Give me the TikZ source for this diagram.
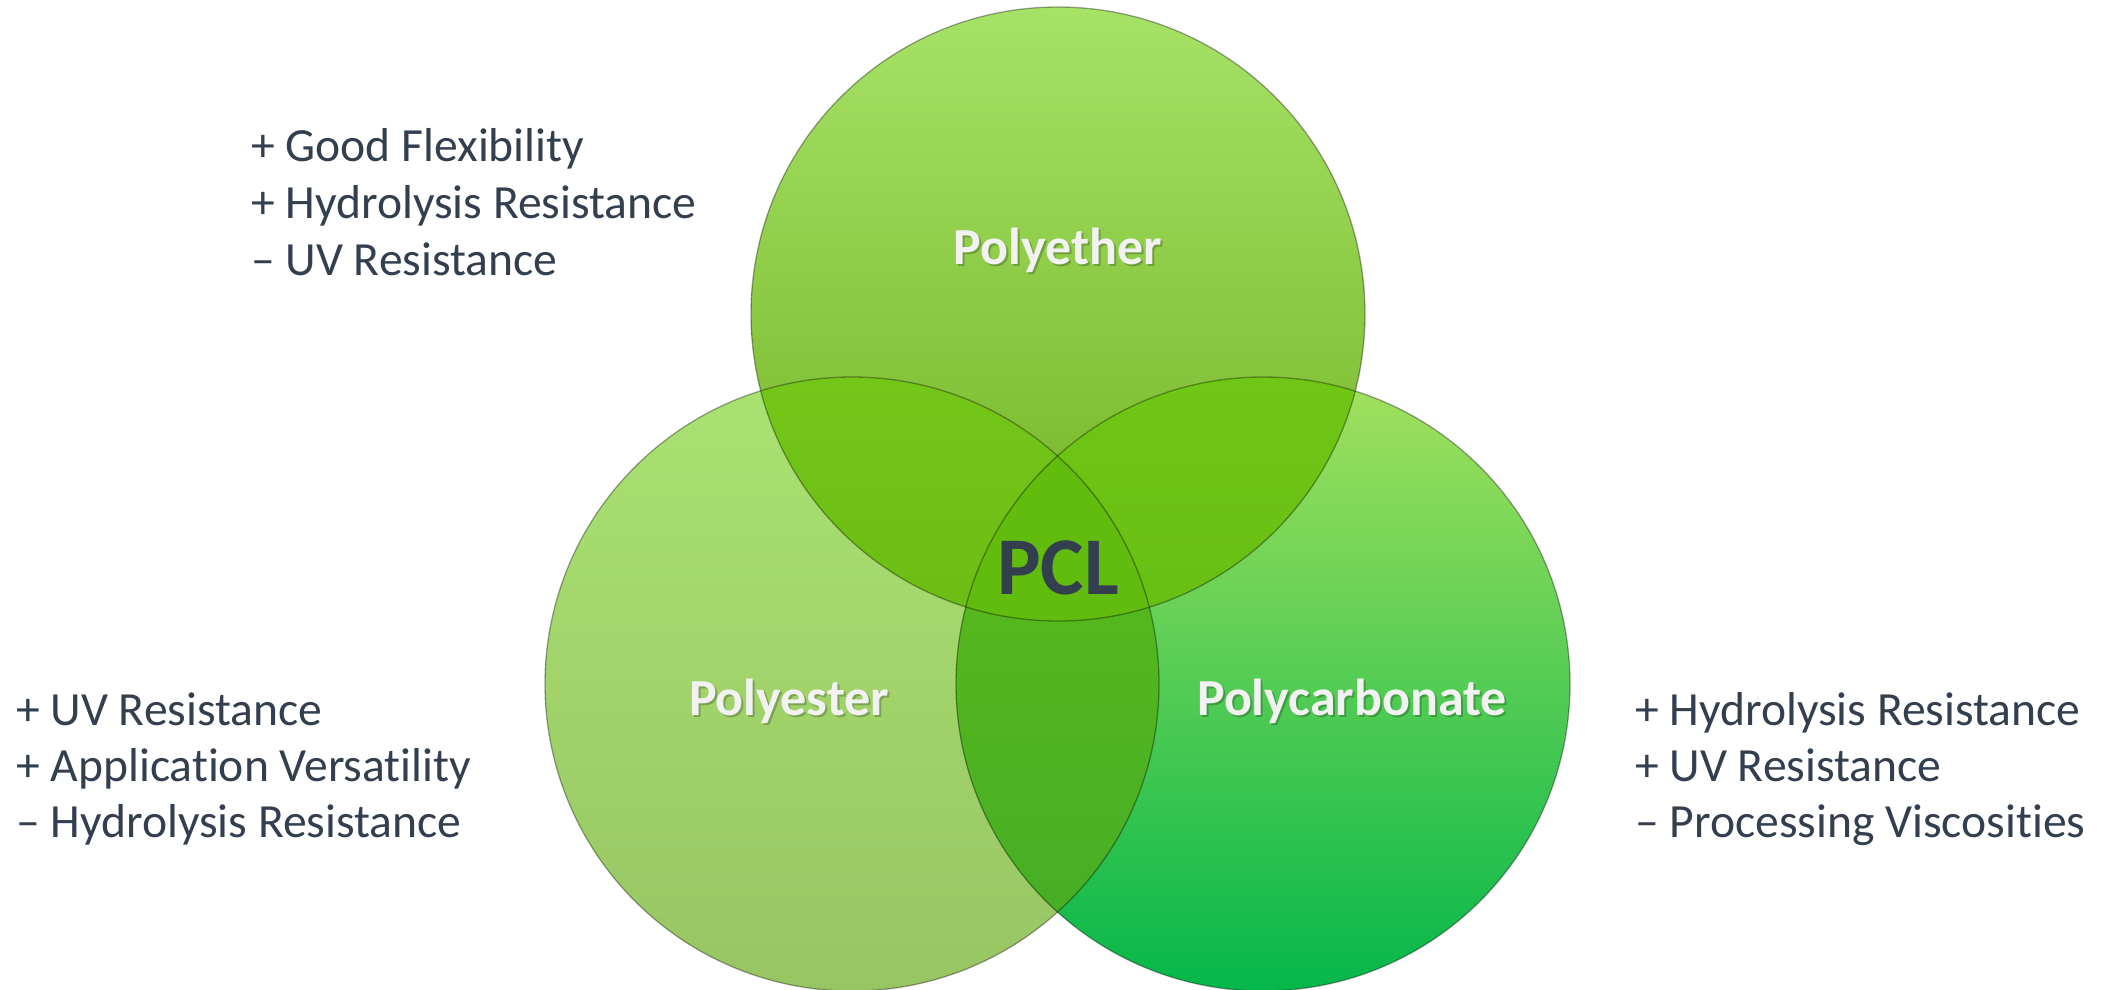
\documentclass[tikz,border=0pt]{standalone}
\usepackage{fontspec}
\setmainfont{Carlito}[RawFeature={-liga;-clig;-dlig;-calt}]
\definecolor{txt}{HTML}{333F4F}
\definecolor{lab}{HTML}{F2F2F2}
\definecolor{eTop}{HTML}{A6E266}
\definecolor{eBot}{HTML}{70B020}
\definecolor{sTop}{HTML}{AAE272}
\definecolor{sBot}{HTML}{98C563}
\definecolor{cTop}{HTML}{A3E15D}
\definecolor{cBot}{HTML}{05B74A}
\definecolor{esTop}{HTML}{74C619}
\definecolor{esBot}{HTML}{5FAE0B}
\definecolor{ecTop}{HTML}{70C614}
\definecolor{ecBot}{HTML}{58B414}
\definecolor{scTop}{HTML}{5EBE16}
\definecolor{scBot}{HTML}{44AC28}
\definecolor{tri}{HTML}{62BC0E}
\begin{document}
\begin{tikzpicture}[x=1pt,y=-1pt,
  rim/.style={draw=black,draw opacity=0.35,line width=1.3pt},
  side/.style={anchor=base west,inner sep=0pt,text=txt,font=\fontsize{47.6}{57}\selectfont},
  setlabel/.style={inner sep=0pt,text=lab,font=\fontsize{52}{60}\selectfont\bfseries},
  shadowlabel/.style={inner sep=0pt,text=black,text opacity=0.22,font=\fontsize{52}{60}\selectfont\bfseries}]
\useasboundingbox (0,0) rectangle (2110,989);
\def\R{307pt}
\coordinate (E) at (1058,314);
\coordinate (S) at (852,684);
\coordinate (C) at (1263,684);
% base circles
\shade[top color=eTop,bottom color=eBot] (E) circle[radius=\R];
\shade[top color=sTop,bottom color=sBot] (S) circle[radius=\R];
\shade[top color=cTop,bottom color=cBot] (C) circle[radius=\R];
% pairwise overlaps
\begin{scope}
  \clip (E) circle[radius=\R];
  \shade[top color=esTop,bottom color=esBot] (S) circle[radius=\R];
\end{scope}
\begin{scope}
  \clip (E) circle[radius=\R];
  \shade[top color=ecTop,bottom color=ecBot] (C) circle[radius=\R];
\end{scope}
\begin{scope}
  \clip (S) circle[radius=\R];
  \shade[top color=scTop,bottom color=scBot] (C) circle[radius=\R];
\end{scope}
\begin{scope}
  \clip (E) circle[radius=\R];
  \clip (S) circle[radius=\R];
  \fill[tri] (C) circle[radius=\R];
\end{scope}
% outlines
\path[rim] (E) circle[radius=\R];
\path[rim] (S) circle[radius=\R];
\path[rim] (C) circle[radius=\R];
% set labels
\node[shadowlabel] at (1060,252) {Polyether};
\node[setlabel] (lE) at (1058,250) {Polyether};
\node[shadowlabel] at (791,703) {Polyester};
\node[setlabel] (lS) at (789,701) {Polyester};
\node[shadowlabel] at (1354,703) {Polycarbonate};
\node[setlabel] (lC) at (1352,701) {Polycarbonate};
\node[inner sep=0pt,text=txt,font=\fontsize{82}{90}\selectfont\bfseries] (pcl) at (1058,568) {PCL};
% property lists
\node[side] (e1) at (251,161) {+ Good Flexibility};
\node[side] (e2) at (251,218) {+ Hydrolysis Resistance};
\node[side] (e3) at (251,275) {– UV Resistance};
\node[side] (s1) at (16,725) {+ UV Resistance};
\node[side] (s2) at (16,781) {+ Application Versatility};
\node[side] (s3) at (16,837) {– Hydrolysis Resistance};
\node[side] (c1) at (1635,725) {+ Hydrolysis Resistance};
\node[side] (c2) at (1635,781) {+ UV Resistance};
\node[side] (c3) at (1635,837) {– Processing Viscosities};
\end{tikzpicture}
\end{document}
